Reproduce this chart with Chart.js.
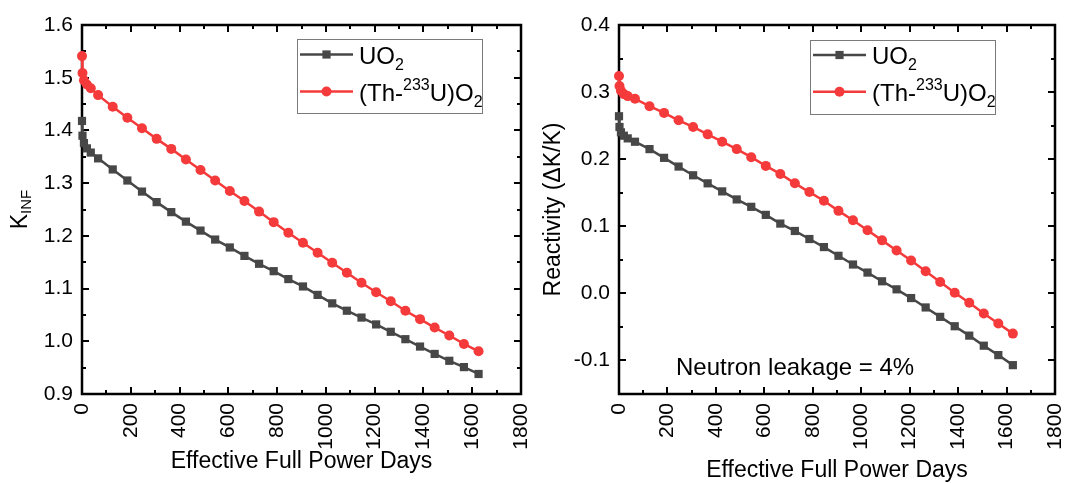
<!DOCTYPE html>
<html>
<head>
<meta charset="utf-8">
<script src="https://cdn.jsdelivr.net/npm/chart.js@4.4.1/dist/chart.umd.min.js"></script>
<style>
  html, body { margin: 0; padding: 0; background: #fff; overflow: hidden; }
  .panel { position: absolute; top: 0; width: 540px; height: 483px; }
  #leftWrap { left: 0; }
  #rightWrap { left: 540px; }
</style>
</head>
<body>
<div id="leftWrap" class="panel"><canvas id="kinfChart" width="540" height="483"></canvas></div>
<div id="rightWrap" class="panel"><canvas id="rhoChart" width="540" height="483"></canvas></div>
<script>
// burnup steps (effective full power days)
const days = [0, 2, 8, 20, 36, 66, 126, 186, 246, 306, 366, 426, 486, 546, 606, 666,
    726, 786, 846, 906, 966, 1026, 1086, 1146, 1206, 1266, 1326, 1386, 1446, 1506, 1566, 1626];

const kinfUO2 = [1.418, 1.390, 1.376, 1.366, 1.358, 1.347, 1.326, 1.305, 1.284, 1.264, 1.245,
    1.227, 1.210, 1.193, 1.178, 1.162, 1.147, 1.133, 1.118, 1.104, 1.088, 1.072, 1.058,
    1.045, 1.032, 1.018, 1.004, 0.990, 0.976, 0.963, 0.951, 0.938];
const kinfThU = [1.541, 1.509, 1.495, 1.487, 1.480, 1.467, 1.445, 1.424, 1.404, 1.384, 1.365,
    1.345, 1.325, 1.305, 1.285, 1.266, 1.246, 1.226, 1.206, 1.187, 1.168, 1.149, 1.130,
    1.111, 1.093, 1.076, 1.058, 1.042, 1.026, 1.011, 0.995, 0.981];

const rhoUO2 = [0.264, 0.248, 0.240, 0.235, 0.231, 0.226, 0.215, 0.202, 0.189, 0.176, 0.164,
    0.152, 0.140, 0.129, 0.117, 0.104, 0.093, 0.081, 0.069, 0.056, 0.043, 0.031, 0.018,
    0.006, -0.007, -0.021, -0.035, -0.049, -0.063, -0.078, -0.092, -0.107];
const rhoThU = [0.324, 0.309, 0.302, 0.297, 0.294, 0.290, 0.279, 0.269, 0.258, 0.248, 0.237,
    0.226, 0.215, 0.203, 0.190, 0.178, 0.164, 0.151, 0.138, 0.123, 0.109, 0.094, 0.079,
    0.064, 0.049, 0.033, 0.017, 0.001, -0.014, -0.030, -0.045, -0.060];

const xTicks = [0, 200, 400, 600, 800, 1000, 1200, 1400, 1600, 1800];
const kinfTicks = [0.9, 1.0, 1.1, 1.2, 1.3, 1.4, 1.5, 1.6];
const rhoTicks = [-0.1, 0.0, 0.1, 0.2, 0.3, 0.4];

// rich text pieces: [text, 'n' | 'sub' | 'sup']
const legendUO2 = [["UO", "n"], ["2", "sub"]];
const legendThU = [["(Th-", "n"], ["233", "sup"], ["U)O", "n"], ["2", "sub"]];
const kinfTitle = [["K", "n"], ["INF", "sub"]];
const rhoTitle = [["Reactivity (\u0394K/K)", "n"]];
const xTitle = [["Effective Full Power Days", "n"]];
const noteText = [["Neutron leakage = 4%", "n"]];

const FONT = "'Liberation Sans', Arial, sans-serif";
const GREY = "#474747";
const RED = "#f43a3a";

function drawRich(ctx, parts, x, y, size, opts) {
    const small = Math.round(size * 0.66);
    const subDy = opts.subDy ?? size * 0.26;
    const supDy = opts.supDy ?? -size * 0.45;
    ctx.save();
    ctx.translate(x, y);
    if (opts.rotate) ctx.rotate(-Math.PI / 2);
    ctx.fillStyle = "#000";
    ctx.textAlign = "left";
    ctx.textBaseline = "alphabetic";
    let w = 0;
    for (const [t, m] of parts) {
        ctx.font = `${m === "n" ? size : small}px ${FONT}`;
        w += ctx.measureText(t).width;
    }
    let cx = opts.align === "center" ? -w / 2 : 0;
    for (const [t, m] of parts) {
        ctx.font = `${m === "n" ? size : small}px ${FONT}`;
        const dy = m === "sub" ? subDy : m === "sup" ? supDy : 0;
        ctx.fillText(t, cx, dy);
        cx += ctx.measureText(t).width;
    }
    ctx.restore();
}

function drawMarker(ctx, style, color, r, x, y) {
    ctx.save();
    ctx.fillStyle = color;
    if (style === "rect") {
        const h = r * Math.SQRT1_2;
        ctx.fillRect(x - h, y - h, 2 * h, 2 * h);
    } else {
        ctx.beginPath();
        ctx.arc(x, y, r, 0, Math.PI * 2);
        ctx.fill();
    }
    ctx.restore();
}

function minorsOf(major, min, max) {
    const out = [];
    const step = major[1] - major[0];
    const first = major[0] - step / 2;
    if (first > min + 1e-9) out.push(first);
    for (let i = 0; i < major.length - 1; i++) out.push((major[i] + major[i + 1]) / 2);
    const last = major[major.length - 1] + step / 2;
    if (last < max - 1e-9) out.push(last);
    return out;
}

const decorPlugin = {
    id: "decor",
    beforeDatasetsDraw(chart, args, o) {
        const { ctx, chartArea: a, scales: { x, y } } = chart;
        ctx.save();
        ctx.strokeStyle = "#000";
        ctx.lineWidth = 2;
        const tickSets = [
            [x.ticks.map(t => t.value), 7],
            [minorsOf(x.ticks.map(t => t.value), x.min, x.max), 4],
        ];
        for (const [vals, len] of tickSets) {
            for (const v of vals) {
                const px = Math.round(x.getPixelForValue(v));
                ctx.beginPath();
                ctx.moveTo(px, a.bottom); ctx.lineTo(px, a.bottom - len);
                ctx.moveTo(px, a.top); ctx.lineTo(px, a.top + len);
                ctx.stroke();
            }
        }
        const yMaj = y.ticks.map(t => t.value);
        const ySets = [[yMaj, 7], [minorsOf(yMaj, y.min, y.max), 4]];
        for (const [vals, len] of ySets) {
            for (const v of vals) {
                const py = Math.round(y.getPixelForValue(v));
                ctx.beginPath();
                ctx.moveTo(a.left, py); ctx.lineTo(a.left + len, py);
                ctx.moveTo(a.right, py); ctx.lineTo(a.right - len, py);
                ctx.stroke();
            }
        }
        ctx.lineWidth = 2.5;
        ctx.strokeRect(a.left, a.top, a.right - a.left, a.bottom - a.top);
        ctx.restore();
    },
    afterDraw(chart, args, o) {
        const { ctx, chartArea: a } = chart;
        // axis titles
        drawRich(ctx, xTitle, (a.left + a.right) / 2, o.xTitleY, 23, { align: "center" });
        drawRich(ctx, o.yTitle, o.yTitleX, (a.top + a.bottom) / 2, 23,
            { align: "center", rotate: true, subDy: 4 });
        // legend
        const L = o.legend;
        ctx.save();
        ctx.strokeStyle = "#7a7a7a";
        ctx.lineWidth = 1;
        ctx.strokeRect(L.x + 0.5, L.y + 0.5, L.w, L.h);
        ctx.restore();
        chart.data.datasets.forEach((ds, i) => {
            const rowY = L.y + L.rowY[i];
            ctx.save();
            ctx.strokeStyle = ds.borderColor;
            ctx.lineWidth = ds.borderWidth;
            ctx.beginPath();
            ctx.moveTo(L.x + 3, rowY);
            ctx.lineTo(L.x + 56, rowY);
            ctx.stroke();
            ctx.restore();
            drawMarker(ctx, ds.pointStyle, ds.borderColor, ds.pointRadius, L.x + 29.5, rowY);
            drawRich(ctx, ds.rich, L.x + 62, rowY + 9, 24, { subDy: 6, supDy: -11 });
        });
        if (o.note) drawRich(ctx, noteText, o.note.x, o.note.y, 24, {});
    },
};

function makeDatasets(grey, red) {
    return [
        {
            label: "UO2", rich: legendUO2,
            data: days.map((d, i) => ({ x: d, y: grey[i] })),
            borderColor: GREY, backgroundColor: GREY, borderWidth: 2.5,
            pointStyle: "rect", pointRadius: 5.8, pointBorderWidth: 0, pointHoverRadius: 5.8,
            tension: 0, clip: false,
        },
        {
            label: "(Th-233U)O2", rich: legendThU,
            data: days.map((d, i) => ({ x: d, y: red[i] })),
            borderColor: RED, backgroundColor: RED, borderWidth: 2.5,
            pointStyle: "circle", pointRadius: 5, pointBorderWidth: 0, pointHoverRadius: 5,
            tension: 0, clip: false,
        },
    ];
}

function makeOptions(yMin, yMax, yTickVals, yWidth, rightPad, decor) {
    return {
        responsive: false,
        animation: false,
        events: [],
        layout: { padding: { top: 25, right: rightPad, left: 0, bottom: 0 } },
        plugins: { legend: { display: false }, tooltip: { enabled: false }, decor },
        scales: {
            x: {
                type: "linear", min: 0, max: 1800,
                grid: { display: false, drawTicks: false },
                border: { display: false },
                afterBuildTicks: s => { s.ticks = xTicks.map(v => ({ value: v })); },
                afterFit: s => { s.height = 89; s.paddingLeft = 0; s.paddingRight = 0; },
                ticks: {
                    minRotation: 90, maxRotation: 90, padding: 9, color: "#000",
                    font: { family: FONT, size: 21 },
                    callback: v => String(v),
                },
            },
            y: {
                type: "linear", min: yMin, max: yMax,
                grid: { display: false, drawTicks: false },
                border: { display: false },
                afterBuildTicks: s => { s.ticks = yTickVals.map(v => ({ value: v })); },
                afterFit: s => { s.width = yWidth; },
                ticks: {
                    padding: 9, color: "#000",
                    font: { family: FONT, size: 21 },
                    callback: v => v.toFixed(1),
                },
            },
        },
    };
}

new Chart(document.getElementById("kinfChart"), {
    type: "line",
    data: { datasets: makeDatasets(kinfUO2, kinfThU) },
    options: makeOptions(0.9, 1.6, kinfTicks, 82, 19, {
        xTitleY: 468,
        yTitle: kinfTitle, yTitleX: 27,
        legend: { x: 297, y: 39, w: 185, h: 74, rowY: [15.5, 52.5] },
    }),
    plugins: [decorPlugin],
});

new Chart(document.getElementById("rhoChart"), {
    type: "line",
    data: { datasets: makeDatasets(rhoUO2, rhoThU) },
    options: makeOptions(-0.15, 0.4, rhoTicks, 79, 25, {
        xTitleY: 477,
        yTitle: rhoTitle, yTitleX: 20,
        legend: { x: 270, y: 40, w: 185, h: 74, rowY: [15, 51.7] },
        note: { x: 136, y: 375 },
    }),
    plugins: [decorPlugin],
});
</script>
</body>
</html>
